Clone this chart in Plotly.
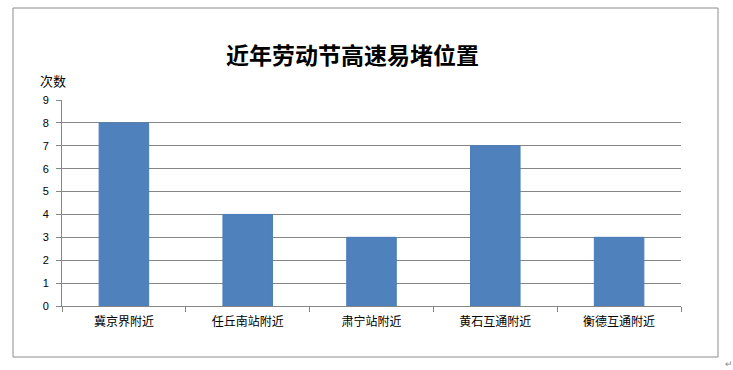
import plotly.graph_objects as go

categories = ["冀京界附近", "任丘南站附近", "肃宁站附近", "黄石互通附近", "衡德互通附近"]
counts = [8, 4, 3, 7, 3]
title_text = "近年劳动节高速易堵位置"
y_label = "次数"

W, H = 733, 370
L, R, T, B = 62, 681, 100, 306
pw, ph = R - L, B - T

def px(x):
    return (x - L) / pw

def py(y):
    return (B - y) / ph

fig = go.Figure()
fig.add_trace(go.Bar(
    x=categories, y=counts,
    marker=dict(color="#4F81BD", line=dict(color="#4A7DB8", width=1)),
    width=0.4,
))

fig.update_layout(
    width=W, height=H,
    margin=dict(l=L, r=W - R, t=T, b=H - B),
    paper_bgcolor="white", plot_bgcolor="white",
    showlegend=False,
    font=dict(family="Noto Sans CJK SC, Arial", color="black"),
    xaxis=dict(
        type="category", showgrid=False, showline=True, linecolor="#868686", linewidth=1,
        ticks="outside", tickson="boundaries", ticklen=5, tickcolor="#868686",
        ticklabelstandoff=5,
        tickfont=dict(size=12, family="Noto Sans CJK SC"), range=[-0.5, 4.5],
    ),
    yaxis=dict(
        range=[0, 9], dtick=1, showgrid=True, gridcolor="#868686", gridwidth=1,
        showline=True, linecolor="#868686", linewidth=1,
        ticks="outside", ticklen=5, tickcolor="#868686",
        ticklabelstandoff=5,
        tickfont=dict(size=11, family="Liberation Sans, Arial"),
        zeroline=False,
    ),
    shapes=[dict(type="rect", xref="paper", yref="paper",
                 x0=px(13), x1=px(718), y0=py(357), y1=py(8),
                 line=dict(color="#8C8C8C", width=1), layer="below")],
    annotations=[
        dict(text=title_text, xref="paper", yref="paper", x=px(352), y=py(54),
             xanchor="center", yanchor="middle", showarrow=False,
             font=dict(size=23, family="Noto Sans CJK SC", color="black", weight="bold")),
        dict(text=y_label, xref="paper", yref="paper", x=px(38), y=py(80),
             xanchor="left", yanchor="middle", showarrow=False,
             font=dict(size=13, family="Noto Sans CJK SC", color="black")),
        dict(text="↵", xref="paper", yref="paper", x=px(729), y=py(363),
             xanchor="center", yanchor="middle", showarrow=False,
             font=dict(size=9, color="#888888")),
    ],
)

fig.write_html("out.html")
